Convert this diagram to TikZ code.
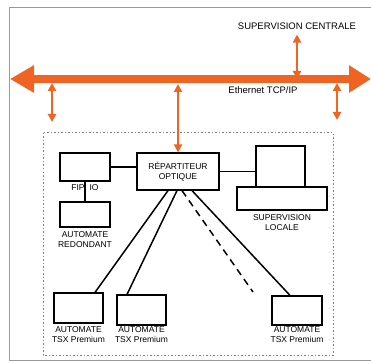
\documentclass[tikz,border=0pt]{standalone}
\usepackage{fontspec}
\setmainfont{Liberation Sans}
\usetikzlibrary{arrows.meta}
\definecolor{busorange}{RGB}{240,100,35}

\begin{document}
\begin{tikzpicture}[
    x=1pt, y=-1pt,
    box/.style={draw, line width=1.2pt, rectangle, inner sep=0pt},
    lbl/.style={font=\fontsize{8.5}{9.5}\selectfont, align=center, inner sep=0pt},
    biglbl/.style={lbl, font=\fontsize{9.5}{10}\selectfont},
    bus/.style={busorange, line width=8pt, {Triangle[length=24pt, width=26pt]}-{Triangle[length=22pt, width=26pt]}},
    dbl/.style={busorange, line width=2.5pt, {Triangle[length=8pt, width=8pt]}-{Triangle[length=8pt, width=8pt]}},
    link/.style={line width=1.5pt}
]
    \useasboundingbox (0,0) rectangle (371,363);
    % frames
    \draw[gray!80, line width=1pt] (371,8) -- (9,8) -- (9,360) -- (371,360);
    \draw[gray, line width=1pt, dash pattern=on 1.5pt off 2pt] (43,133) rectangle (333,355);

    % ethernet bus
    \coordinate (busL) at (10,79);
    \coordinate (busR) at (371,79);
    \draw[bus] (busL) -- (busR);
    \node[biglbl] (eth) at (263,90) {Ethernet TCP/IP};

    \node[biglbl] (sc) at (297,26) {SUPERVISION CENTRALE};
    \coordinate (l1) at (52,122);
    \coordinate (r1) at (337,120);

    % equipment
    \node[box, minimum width=82pt, minimum height=37pt, lbl] (rep) at (178,171.5) {RÉPARTITEUR\\OPTIQUE};
    \node[box, minimum width=50pt, minimum height=28pt] (fip) at (85,167) {};
    \node[lbl] (fiplbl) at (85,188) {FIP\hspace{5pt}IO};
    \node[box, minimum width=50pt, minimum height=25pt] (red) at (85,214.5) {};
    \node[lbl, below=4pt] (redlbl) at (red.south) {AUTOMATE\\REDONDANT};
    \node[box, minimum width=49pt, minimum height=41pt] (mon) at (280.5,166.5) {};
    \node[box, minimum width=90pt, minimum height=23pt] (base) at (282,198.5) {};
    \node[lbl, below=4pt] (baselbl) at (base.south) {SUPERVISION\\LOCALE};
    \node[box, minimum width=49pt, minimum height=30pt] (a1) at (78.5,308) {};
    \node[box, minimum width=49pt, minimum height=30pt] (a2) at (141.5,310) {};
    \node[box, minimum width=50pt, minimum height=29pt] (a3) at (297,310.5) {};
    \node[lbl, below=3pt] (a1lbl) at (a1.south) {AUTOMATE\\TSX Premium};
    \node[lbl, below=1pt] (a2lbl) at (a2.south) {AUTOMATE\\TSX Premium};
    \node[lbl, below=1pt] (a3lbl) at (a3.south) {AUTOMATE\\TSX Premium};
    \coordinate (dend) at (253,292);

    % orange links
    \draw[dbl] ([yshift=-5pt]sc.south) -- (sc.south |- busL);
    \draw[dbl] ([yshift=-4pt]l1 |- busL) -- (l1);
    \draw[dbl] ([yshift=-4pt]r1 |- busR) -- (r1);
    \draw[dbl, line width=2pt] ([yshift=-5pt]rep.north |- busL) -- (rep.north);

    % links
    \draw[line width=1.1pt] (fip.south) -- (red.north);
    \draw[line width=1.1pt] (fip.east) -- (fip.east -| rep.west);
    \draw[line width=1.1pt] (rep.east) -- (rep.east -| mon.west);
    \draw[link] ([xshift=-10pt]rep.south) -- ([xshift=16.5pt]a1.north);
    \draw[link] ([xshift=-1pt]rep.south) -- ([xshift=-14.5pt]a2.north);
    \draw[link, dash pattern=on 7pt off 5pt] ([xshift=4pt]rep.south) -- (dend);
    \draw[link] ([xshift=14pt]rep.south) -- ([xshift=-7pt]a3.north);
\end{tikzpicture}
\end{document}
